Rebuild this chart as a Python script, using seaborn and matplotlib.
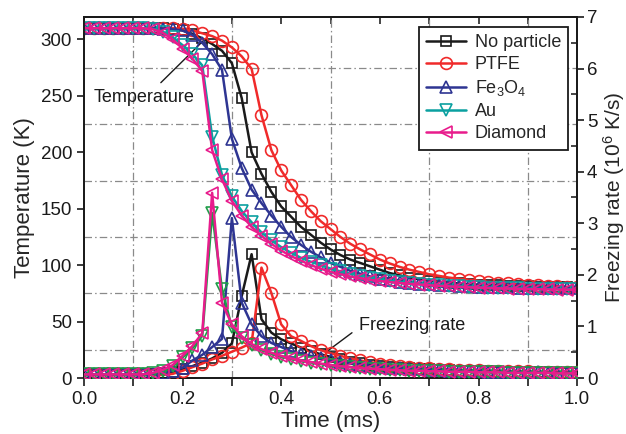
import matplotlib
matplotlib.use('Agg')
import matplotlib.pyplot as plt
from matplotlib.lines import Line2D
from matplotlib.ticker import MultipleLocator
import seaborn as sns

# sampling grid (ms)
time_ms = [0.00, 0.02, 0.04, 0.06, 0.08, 0.10, 0.12, 0.14, 0.16, 0.18,
           0.20, 0.22, 0.24, 0.26, 0.28, 0.30, 0.32, 0.34, 0.36, 0.38,
           0.40, 0.42, 0.44, 0.46, 0.48, 0.50, 0.52, 0.54, 0.56, 0.58,
           0.60, 0.62, 0.64, 0.66, 0.68, 0.70, 0.72, 0.74, 0.76, 0.78,
           0.80, 0.82, 0.84, 0.86, 0.88, 0.90, 0.92, 0.94, 0.96, 0.98, 1.00]

# temperature (K)
temp_none = [310, 310, 310, 310, 310, 310, 310, 310, 310, 309.5,
             308, 305, 301, 296, 290, 279, 248, 200, 181, 165,
             152, 143, 134, 127, 120, 114, 109, 105, 102, 99,
             96, 93, 91, 89, 87.5, 86.3, 85.3, 84.5, 83.8, 83.2,
             82.7, 82.3, 82, 81.7, 81.4, 81.2, 81, 80.8, 80.6, 80.4, 80.2]
temp_ptfe = [310, 310, 310, 310, 310, 310, 310, 310, 310, 310,
             309.5, 308, 305.5, 303, 299, 293, 285, 274, 233, 202,
             184, 171, 158, 148, 139, 132, 125, 119, 114, 109.5,
             105, 101.5, 98.5, 96, 94, 92, 90.5, 89, 88, 87,
             86, 85.2, 84.5, 83.8, 83.2, 82.7, 82.2, 81.8, 81.3, 80.8, 80.3]
temp_fe3o4 = [310, 310, 310, 310, 310, 310, 310, 310, 309.7, 309,
              308, 304, 297, 287, 273, 212, 186, 167, 155, 144,
              134, 125, 118, 112, 107, 102, 98.5, 95, 92.5, 90,
              88, 86.5, 85.3, 84.3, 83.5, 82.9, 82.4, 82, 81.6, 81.3,
              81, 80.8, 80.6, 80.4, 80.2, 80, 79.9, 79.8, 79.7, 79.6, 79.5]
temp_au = [310, 310, 310, 310, 310, 310, 310, 309.5, 307, 302,
           295, 287, 277, 214, 180, 161, 148, 138, 129, 122,
           116, 111, 106.5, 103, 100, 97, 94.5, 92.5, 90.5, 89,
           87.5, 86.3, 85.2, 84.3, 83.5, 82.8, 82.2, 81.7, 81.2, 80.8,
           80.4, 80.1, 79.8, 79.6, 79.4, 79.2, 79, 78.9, 78.8, 78.7, 78.6]
temp_diamond = [310, 310, 310, 310, 310, 310, 310, 309, 306, 300,
                292, 283, 272, 202, 176, 157, 144, 134, 126, 119,
                113, 108, 104, 100, 97, 94, 92, 90, 88.5, 87,
                86, 85, 84.2, 83.5, 82.8, 82.2, 81.7, 81.2, 80.8, 80.4,
                80.1, 79.8, 79.5, 79.3, 79.1, 78.9, 78.7, 78.5, 78.4, 78.3, 78.2]

# freezing rate (10^6 K/s)
rate_none = [0.07, 0.07, 0.07, 0.07, 0.07, 0.07, 0.07, 0.07, 0.09, 0.12,
             0.17, 0.23, 0.30, 0.38, 0.49, 0.67, 1.59, 2.40, 1.14, 0.88,
             0.75, 0.67, 0.59, 0.52, 0.46, 0.41, 0.36, 0.32, 0.29, 0.26,
             0.24, 0.22, 0.20, 0.19, 0.18, 0.17, 0.16, 0.15, 0.14, 0.14,
             0.13, 0.13, 0.12, 0.12, 0.12, 0.11, 0.11, 0.11, 0.10, 0.10, 0.10]
rate_ptfe = [0.06, 0.06, 0.06, 0.06, 0.06, 0.06, 0.06, 0.06, 0.06, 0.08,
             0.14, 0.21, 0.28, 0.36, 0.43, 0.51, 0.59, 0.68, 2.14, 1.65,
             1.04, 0.81, 0.72, 0.62, 0.54, 0.48, 0.43, 0.38, 0.34, 0.31,
             0.28, 0.25, 0.23, 0.21, 0.20, 0.19, 0.18, 0.17, 0.16, 0.15,
             0.15, 0.14, 0.14, 0.13, 0.13, 0.13, 0.12, 0.12, 0.12, 0.12, 0.12]
rate_fe3o4 = [0.07, 0.07, 0.07, 0.07, 0.07, 0.07, 0.07, 0.08, 0.10, 0.14,
              0.20, 0.34, 0.45, 0.60, 0.76, 3.10, 1.46, 1.04, 0.81, 0.68,
              0.60, 0.52, 0.47, 0.43, 0.38, 0.34, 0.31, 0.28, 0.26, 0.24,
              0.22, 0.20, 0.19, 0.18, 0.17, 0.16, 0.15, 0.14, 0.14, 0.13,
              0.13, 0.12, 0.12, 0.12, 0.11, 0.11, 0.11, 0.10, 0.10, 0.10, 0.10]
rate_au = [0.07, 0.07, 0.07, 0.07, 0.07, 0.07, 0.07, 0.09, 0.14, 0.23,
           0.40, 0.58, 0.82, 3.20, 1.72, 0.98, 0.78, 0.64, 0.54, 0.47,
           0.41, 0.37, 0.33, 0.30, 0.27, 0.25, 0.23, 0.21, 0.19, 0.18,
           0.17, 0.16, 0.15, 0.14, 0.14, 0.13, 0.13, 0.12, 0.12, 0.12,
           0.11, 0.11, 0.11, 0.10, 0.10, 0.10, 0.10, 0.10, 0.09, 0.09, 0.09]
rate_diamond = [0.07, 0.07, 0.07, 0.07, 0.07, 0.07, 0.07, 0.10, 0.16, 0.25,
                0.43, 0.62, 0.87, 3.59, 1.46, 1.04, 0.81, 0.66, 0.56, 0.49,
                0.43, 0.38, 0.34, 0.31, 0.28, 0.25, 0.23, 0.21, 0.19, 0.18,
                0.17, 0.16, 0.15, 0.14, 0.14, 0.13, 0.13, 0.12, 0.12, 0.12,
                0.11, 0.11, 0.11, 0.10, 0.10, 0.10, 0.10, 0.10, 0.09, 0.09, 0.09]

labels = ['No particle', 'PTFE', 'Fe$_3$O$_4$', 'Au', 'Diamond']
markers = ['s', 'o', '^', 'v', '<']
temp_colors = ['#1a1a1a', '#f02a2a', '#2e3592', '#0aa0a0', '#e81c8c']
rate_colors = ['#1a1a1a', '#f02a2a', '#2e3592', '#1e9e48', '#e81c8c']
msizes = [7.5, 8.5, 8.5, 8.5, 8.5]

sns.set_theme(style='ticks')
plt.rcParams['font.family'] = ['Liberation Sans', 'DejaVu Sans']
plt.rcParams['mathtext.default'] = 'regular'

fig = plt.figure(figsize=(6.26, 4.34), dpi=100)
ax = fig.add_axes([0.134, 0.129, 0.788, 0.832])
ax2 = ax.twinx()

temps = [temp_none, temp_ptfe, temp_fe3o4, temp_au, temp_diamond]
rates = [rate_none, rate_ptfe, rate_fe3o4, rate_au, rate_diamond]

for i in range(5):
    sns.lineplot(x=time_ms, y=temps[i], ax=ax, color=temp_colors[i],
                 marker=markers[i], markersize=msizes[i], markerfacecolor='none',
                 markeredgecolor=temp_colors[i], markeredgewidth=1.2,
                 linewidth=1.8, zorder=3 + i)
    sns.lineplot(x=time_ms, y=rates[i], ax=ax2, color=rate_colors[i],
                 marker=markers[i], markersize=msizes[i], markerfacecolor='none',
                 markeredgecolor=rate_colors[i], markeredgewidth=1.2,
                 linewidth=1.8, zorder=3 + i)

ax.set_xlim(0, 1.0)
ax.set_ylim(0, 320)
ax2.set_ylim(0, 7)

ax.xaxis.set_major_locator(MultipleLocator(0.2))
ax.xaxis.set_minor_locator(MultipleLocator(0.1))
ax.yaxis.set_major_locator(MultipleLocator(50))
ax.yaxis.set_minor_locator(MultipleLocator(25))
ax.xaxis.set_major_formatter(matplotlib.ticker.FormatStrFormatter('%.1f'))
ax2.yaxis.set_major_locator(MultipleLocator(1))
ax2.yaxis.set_minor_locator(MultipleLocator(0.5))

ax.grid(False)
ax.grid(True, which='minor', color='#8a8a8a', linewidth=0.9,
        linestyle=(0, (6, 2.5, 1.2, 2.5)))
ax.set_axisbelow(True)

ax.tick_params(axis='x', which='both', direction='out', length=6, width=1.2,
               labelsize=13.5, colors='#1a1a1a', top=False)
ax.tick_params(axis='y', which='major', direction='out', length=5, width=1.2,
               labelsize=13.5, colors='#1a1a1a')
ax.tick_params(axis='y', which='minor', length=0)
ax2.tick_params(axis='y', which='major', direction='out', length=5, width=1.2,
                labelsize=13.5, colors='#1a1a1a', pad=2)
ax2.tick_params(axis='y', which='minor', direction='in', length=4, width=1.2)

top = ax.secondary_xaxis('top')
top.xaxis.set_major_locator(MultipleLocator(0.1))
top.tick_params(axis='x', direction='in', length=5, width=1.2, labeltop=False)

for a in (ax, ax2):
    for s in a.spines.values():
        s.set_linewidth(1.3)
        s.set_color('#1a1a1a')
top.spines['top'].set_linewidth(1.3)

ax.set_xlabel('Time (ms)', fontsize=16, labelpad=2)
ax.set_ylabel('Temperature (K)', fontsize=16, labelpad=4)
ax2.set_ylabel('Freezing rate (10$^{6}$ K/s)', fontsize=15, labelpad=3)

# annotations
ax.text(0.123, 249, 'Temperature', fontsize=13, ha='center', va='center', color='#1a1a1a')
ax.annotate('', xy=(0.247, 301), xytext=(0.152, 260),
            arrowprops=dict(arrowstyle='-', lw=1.0, color='#1a1a1a'))
ax2.text(0.558, 1.01, 'Freezing rate', fontsize=13, ha='left', va='center', color='#1a1a1a')
ax2.annotate('', xy=(0.485, 0.46), xytext=(0.548, 0.91),
             arrowprops=dict(arrowstyle='-', lw=1.0, color='#1a1a1a'))

handles = [Line2D([], [], color=temp_colors[i], marker=markers[i], markersize=msizes[i],
                  markerfacecolor='none', markeredgecolor=temp_colors[i],
                  markeredgewidth=1.2, linewidth=1.8) for i in range(5)]
leg = ax2.legend(handles, labels, loc='upper right', bbox_to_anchor=(0.982, 0.972),
                 fontsize=13, frameon=True, fancybox=False, edgecolor='#1a1a1a',
                 framealpha=1, handlelength=2.2, labelspacing=0.28, borderpad=0.4,
                 handletextpad=0.5, borderaxespad=0)
leg.get_frame().set_linewidth(1.3)

fig.savefig('out.png', dpi=100)
